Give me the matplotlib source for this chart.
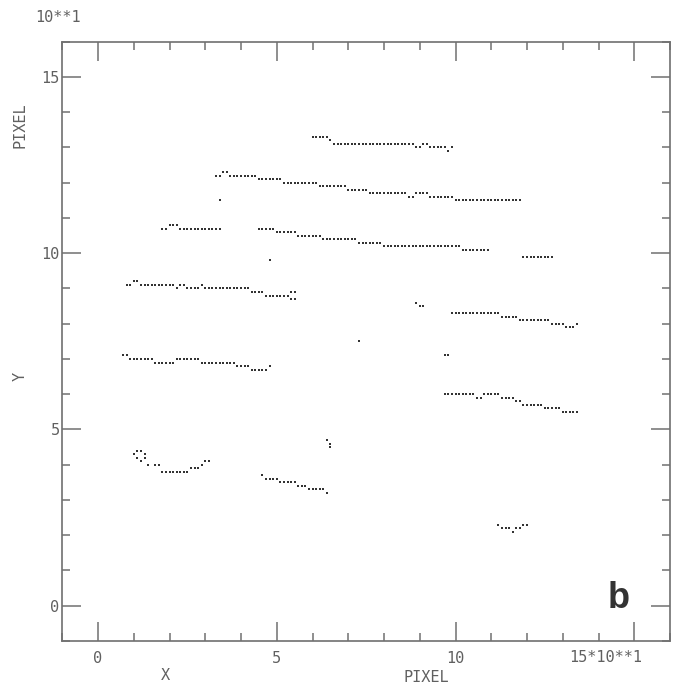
import numpy as np
import matplotlib
matplotlib.use("Agg")
import matplotlib.pyplot as plt
from matplotlib.ticker import MultipleLocator, FixedLocator

# Runs of detected pixels: (y_pixel, x_start_pixel, x_end_pixel); axes are in units of 10 pixels
seg_a = [(133, 60, 64), (132, 65, 65), (131, 66, 88), (130, 89, 90), (131, 91, 92),
         (130, 93, 97), (129, 98, 98), (130, 99, 99)]
seg_b = [(122, 33, 34), (123, 35, 36), (122, 37, 44), (121, 45, 51), (120, 52, 61),
         (119, 62, 69), (118, 70, 75), (117, 76, 86), (116, 87, 88), (117, 89, 92),
         (116, 93, 99), (115, 100, 118)]
seg_c = [(107, 18, 19), (108, 20, 22), (107, 23, 34)]
seg_d = [(107, 45, 49), (106, 50, 55), (105, 56, 62), (104, 63, 72), (103, 73, 79),
         (102, 80, 101), (101, 102, 109)]
seg_d2 = [(99, 119, 127)]
seg_e = [(91, 8, 9), (92, 10, 11), (91, 12, 21), (90, 22, 22), (91, 23, 24), (90, 25, 28),
         (91, 29, 29), (90, 30, 42), (89, 43, 46), (88, 47, 53), (89, 54, 55), (87, 54, 55)]
seg_f = [(86, 89, 89), (85, 90, 91), (83, 99, 112), (82, 113, 117), (81, 118, 126),
         (80, 127, 130), (79, 131, 133), (80, 134, 134)]
seg_g = [(60, 97, 105), (59, 106, 107), (60, 108, 112), (59, 113, 116), (58, 117, 118),
         (57, 119, 124), (56, 125, 129), (55, 130, 134)]
seg_h = [(71, 7, 8), (70, 9, 15), (69, 16, 21), (70, 22, 28), (69, 29, 38), (68, 39, 42),
         (67, 43, 47), (68, 48, 48)]
seg_i = [(43, 10, 10), (44, 11, 12), (43, 13, 13), (42, 11, 11), (42, 13, 13), (41, 12, 12),
         (40, 14, 14), (40, 16, 17), (38, 18, 25), (39, 26, 28), (40, 29, 29), (41, 30, 31)]
seg_j = [(37, 46, 46), (36, 47, 50), (35, 51, 55), (34, 56, 58), (33, 59, 63), (32, 64, 64)]
seg_k = [(23, 112, 112), (22, 113, 115), (21, 116, 116), (22, 117, 118), (23, 119, 120)]
isolated = [(115, 34, 34), (98, 48, 48), (71, 97, 98), (75, 73, 73),
            (47, 64, 64), (46, 65, 65), (45, 65, 65)]

segments = [seg_a, seg_b, seg_c, seg_d, seg_d2, seg_e, seg_f, seg_g, seg_h,
            seg_i, seg_j, seg_k, isolated]

xs, ys = [], []
for seg in segments:
    for (yp, x0, x1) in seg:
        for xp in range(x0, x1 + 1):
            xs.append(xp / 10.0)
            ys.append(yp / 10.0)

W, H = 680, 684
fig = plt.figure(figsize=(W / 100, H / 100), dpi=100)
ax = fig.add_axes([62.3 / W, 1 - 641 / H, (670 - 62.3) / W, (641 - 41.7) / H])
ax.scatter(xs, ys, s=3.2, marker='s', color='#333333', linewidths=0)

ax.set_xlim(-1, 16)
ax.set_ylim(-1, 16)
ax.xaxis.set_major_locator(FixedLocator([0, 5, 10, 15]))
ax.yaxis.set_major_locator(FixedLocator([0, 5, 10, 15]))
ax.xaxis.set_minor_locator(MultipleLocator(1))
ax.yaxis.set_minor_locator(MultipleLocator(1))
ax.set_xticklabels(['0', '5', '10', ''])
ax.set_yticklabels(['0', '5', '10', '15'])

gc = '#707070'
tc = '#606060'
for sp in ax.spines.values():
    sp.set_color(gc)
    sp.set_linewidth(1.2)
ax.tick_params(which='both', direction='in', top=True, right=True, color=gc, width=1.1)
ax.tick_params(which='major', length=14)
ax.tick_params(which='minor', length=5.5)
ax.tick_params(axis='x', which='major', pad=7, labelsize=11, labelcolor=tc)
ax.tick_params(axis='y', which='major', pad=2, labelsize=11, labelcolor=tc)
for lab in ax.get_xticklabels() + ax.get_yticklabels():
    lab.set_family('DejaVu Sans Mono')

mono = dict(family='DejaVu Sans Mono', color=tc, fontsize=11)
fig.text(606 / W, 1 - 657 / H, '15*10**1', ha='center', va='center', **mono)
fig.text(58 / W, 1 - 17 / H, '10**1', ha='center', va='center', **mono)
fig.text(20 / W, 1 - 125 / H, 'PIXEL', rotation=90, ha='center', va='center', **mono)
fig.text(20 / W, 1 - 376 / H, 'Y', rotation=90, ha='center', va='center', **mono)
fig.text(165 / W, 1 - 675 / H, 'X', ha='center', va='center', **mono)
fig.text(426 / W, 1 - 677 / H, 'PIXEL', ha='center', va='center', **mono)
fig.text(619 / W, 1 - 598 / H, 'b', ha='center', va='center', fontsize=26,
         fontweight='bold', family='Liberation Sans', color='#333333')

fig.savefig('out.png', dpi=100, facecolor='white')
